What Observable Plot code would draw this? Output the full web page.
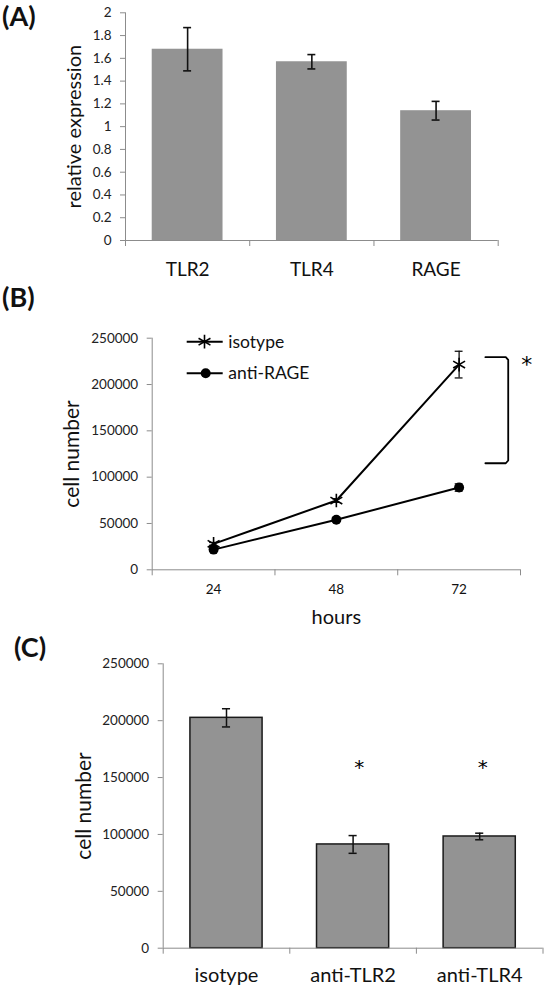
<!DOCTYPE html>
<html>
<head>
<meta charset="utf-8">
<script src="https://cdn.jsdelivr.net/npm/d3@7"></script>
<script src="https://cdn.jsdelivr.net/npm/@observablehq/plot@0.6"></script>
<style>
  html, body { margin: 0; padding: 0; background: #fff; }
  #root { position: relative; width: 549px; height: 993px; overflow: hidden; font-family: Lato, "Open Sans", sans-serif; color: #111; }
  .panel { position: absolute; left: 0; }
  .plabel { position: absolute; font-family: Lato, sans-serif; font-weight: bold; font-size: 27px; line-height: 1.2; color: #111; }
  #legendB { position: absolute; left: 180px; top: 328px; }
</style>
</head>
<body>
<div id="root">
  <div class="panel" id="panelA" style="top:0px;"></div>
  <div class="panel" id="panelB" style="top:290px;"></div>
  <div class="panel" id="panelC" style="top:630px;"></div>
  <div id="legendB"></div>
  <div class="plabel" style="left:2px; top:0px;">(A)</div>
  <div class="plabel" style="left:2px; top:281px;">(B)</div>
  <div class="plabel" style="left:14px; top:631px;">(C)</div>
</div>
<script>
// ---------- Panel A data ----------
const genes = ["TLR2", "TLR4", "RAGE"];
const relExpression = [1.68, 1.57, 1.14];
const relExpressionErr = [0.19, 0.063, 0.082];
const relTicks = [0, 0.2, 0.4, 0.6, 0.8, 1, 1.2, 1.4, 1.6, 1.8, 2];
const relLabel = "relative expression";

// ---------- Panel B data ----------
const hours = [24, 48, 72];
const isotypeCells = [28000, 74800, 221500];
const isotypeErr = [1500, 2000, 14400];
const antiRageCells = [21800, 54000, 88800];
const antiRageErr = [1500, 2000, 4000];
const seriesB = ["isotype", "anti-RAGE"];
const cellTicks = [0, 50000, 100000, 150000, 200000, 250000];
const bracketB = [
  {x: 2.714, y: 229500}, {x: 2.88, y: 229500}, {x: 2.9, y: 226500},
  {x: 2.9, y: 118000}, {x: 2.88, y: 115000}, {x: 2.714, y: 115000}
];
const starB = [{x: 3.05, y: 227800, t: "*"}];
const hoursLabel = "hours";
const cellLabel = "cell number";

// ---------- Panel C data ----------
const treatments = ["isotype", "anti-TLR2", "anti-TLR4"];
const cellsC = [202500, 91200, 98200];
const cellsCErr = [8000, 7800, 2900];
const starsC = [{x: 1.548, y: 163500, t: "*"}, {x: 2.524, y: 163500, t: "*"}];

// ---------- helpers ----------
const AXIS_GRAY = "#8c8c8c";
const BAR_GRAY = "#939393";
const FONT = "Lato, 'Open Sans', sans-serif";
const STAR_FONT = "'DejaVu Sans', sans-serif";
const barGap = 0.43;
const capHalf = 0.032;
const boundaries = [0, 1, 2, 3];
const centers = [0.5, 1.5, 2.5];

function errorMarks(data, opts = {}) {
  const sw = opts.strokeWidth ?? 1.5;
  return [
    Plot.ruleX(data, {x: "x", y1: d => d.v - d.e, y2: d => d.v + d.e, stroke: "#111", strokeWidth: sw}),
    Plot.ruleY(data, {y: d => d.v + d.e, x1: d => d.x - capHalf, x2: d => d.x + capHalf, stroke: "#111", strokeWidth: sw}),
    Plot.ruleY(data, {y: d => d.v - d.e, x1: d => d.x - capHalf, x2: d => d.x + capHalf, stroke: "#111", strokeWidth: sw})
  ];
}

function commonAxes(yTicks, yFmt, catNames, catFont, catPad) {
  return [
    Plot.ruleY([0], {stroke: AXIS_GRAY, strokeWidth: 1}),
    Plot.ruleX([0], {stroke: AXIS_GRAY, strokeWidth: 1}),
    Plot.axisY({ticks: yTicks, tickSize: 5, tickPadding: 9, tickFormat: yFmt, fontSize: 13.5, stroke: AXIS_GRAY, fill: "#222", label: null}),
    Plot.axisX({ticks: boundaries, tickSize: 6, tickFormat: () => "", stroke: AXIS_GRAY, label: null}),
    Plot.axisX({ticks: centers, tickSize: 0, tickPadding: catPad, tickFormat: d => catNames[Math.floor(d)], fontSize: catFont, fill: "#111", label: null})
  ];
}

// ---------- Panel A ----------
{
  const data = genes.map((g, i) => ({g, i, x: i + 0.5, v: relExpression[i], e: relExpressionErr[i]}));
  const chart = Plot.plot({
    width: 549, height: 290,
    marginLeft: 125, marginRight: 51.3, marginTop: 12.3, marginBottom: 50,
    style: {fontFamily: FONT, background: "transparent", color: "#111"},
    x: {type: "linear", domain: [0, 3]},
    y: {domain: [0, 2]},
    marks: [
      Plot.rectY(data, {x1: d => d.i + barGap / 2, x2: d => d.i + 1 - barGap / 2, y: "v", fill: BAR_GRAY}),
      ...errorMarks(data, {strokeWidth: 1.6}),
      ...commonAxes(relTicks, d => String(d), genes, 19, 22),
      Plot.text([relLabel], {text: d => d, frameAnchor: "left", rotate: -90, dx: -51.3, fontSize: 20, textAnchor: "middle", lineAnchor: "middle", fill: "#111"})
    ]
  });
  document.getElementById("panelA").append(chart);
}

// ---------- Panel B ----------
{
  const iso = hours.map((h, i) => ({h, x: i + 0.5, v: isotypeCells[i], e: isotypeErr[i]}));
  const rage = hours.map((h, i) => ({h, x: i + 0.5, v: antiRageCells[i], e: antiRageErr[i]}));
  const chart = Plot.plot({
    width: 549, height: 340,
    marginLeft: 151.7, marginRight: 29, marginTop: 47.7, marginBottom: 60.7,
    style: {fontFamily: FONT, background: "transparent", color: "#111"},
    x: {type: "linear", domain: [0, 3]},
    y: {domain: [0, 250000]},
    marks: [
      ...commonAxes(cellTicks, d => String(d), hours.map(String), 13.5, 15),
      Plot.line(iso, {x: "x", y: "v", stroke: "#000", strokeWidth: 2}),
      Plot.line(rage, {x: "x", y: "v", stroke: "#000", strokeWidth: 2}),
      ...errorMarks(iso, {strokeWidth: 1.3}),
      ...errorMarks(rage, {strokeWidth: 1.3}),
      Plot.dot(iso, {x: "x", y: "v", symbol: "asterisk", r: 6.5, stroke: "#000", strokeWidth: 1.6}),
      Plot.dot(rage, {x: "x", y: "v", r: 5, fill: "#000", stroke: "none"}),
      Plot.line(bracketB, {x: "x", y: "y", stroke: "#000", strokeWidth: 1.8}),
      Plot.text(starB, {x: "x", y: "y", text: "t", fontSize: 22, dy: 6, fill: "#000", fontFamily: STAR_FONT}),
      Plot.text([hoursLabel], {text: d => d, frameAnchor: "bottom", dy: 47.6, fontSize: 20, lineAnchor: "middle", fill: "#111"}),
      Plot.text([cellLabel], {text: d => d, frameAnchor: "left", rotate: -90, dx: -79.8, fontSize: 21, textAnchor: "middle", lineAnchor: "middle", fill: "#111"})
    ]
  });
  document.getElementById("panelB").append(chart);
}

// ---------- Panel B legend ----------
{
  const rowH = 31.6;
  const svg = d3.create("svg").attr("width", 140).attr("height", 64)
    .style("overflow", "visible").style("font-family", FONT);
  seriesB.forEach((name, k) => {
    const g = svg.append("g").attr("transform", `translate(0,${13.7 + k * rowH})`);
    g.append("line").attr("x1", 6.7).attr("x2", 42.7).attr("y1", 0).attr("y2", 0)
      .attr("stroke", "#000").attr("stroke-width", 2);
    if (k === 0) {
      g.append("path").attr("transform", "translate(24.5,0)")
        .attr("d", d3.symbol(d3.symbolAsterisk, Math.PI * 6.5 * 6.5)())
        .attr("stroke", "#000").attr("stroke-width", 1.6).attr("fill", "none");
    } else {
      g.append("circle").attr("cx", 25.7).attr("cy", 0).attr("r", 5).attr("fill", "#000");
    }
    g.append("text").attr("x", 48.3).attr("y", 0).attr("dy", "0.35em")
      .attr("font-size", 17.5).attr("fill", "#111").text(name);
  });
  document.getElementById("legendB").append(svg.node());
}

// ---------- Panel C ----------
{
  const data = treatments.map((t, i) => ({t, i, x: i + 0.5, v: cellsC[i], e: cellsCErr[i]}));
  const chart = Plot.plot({
    width: 549, height: 363,
    marginLeft: 162.7, marginRight: 6.5, marginTop: 33.3, marginBottom: 45.3,
    style: {fontFamily: FONT, background: "transparent", color: "#111"},
    x: {type: "linear", domain: [0, 3]},
    y: {domain: [0, 250000]},
    marks: [
      Plot.rectY(data, {x1: d => d.i + barGap / 2, x2: d => d.i + 1 - barGap / 2, y: "v", fill: BAR_GRAY, stroke: "#1a1a1a", strokeWidth: 1.5}),
      ...errorMarks(data, {strokeWidth: 1.5}),
      ...commonAxes(cellTicks, d => String(d), treatments, 20, 20),
      Plot.text(starsC, {x: "x", y: "y", text: "t", fontSize: 20, dy: 5.5, fill: "#000", fontFamily: STAR_FONT}),
      Plot.text([cellLabel], {text: d => d, frameAnchor: "left", rotate: -90, dx: -79, fontSize: 21, textAnchor: "middle", lineAnchor: "middle", fill: "#111"})
    ]
  });
  document.getElementById("panelC").append(chart);
}
</script>
</body>
</html>
